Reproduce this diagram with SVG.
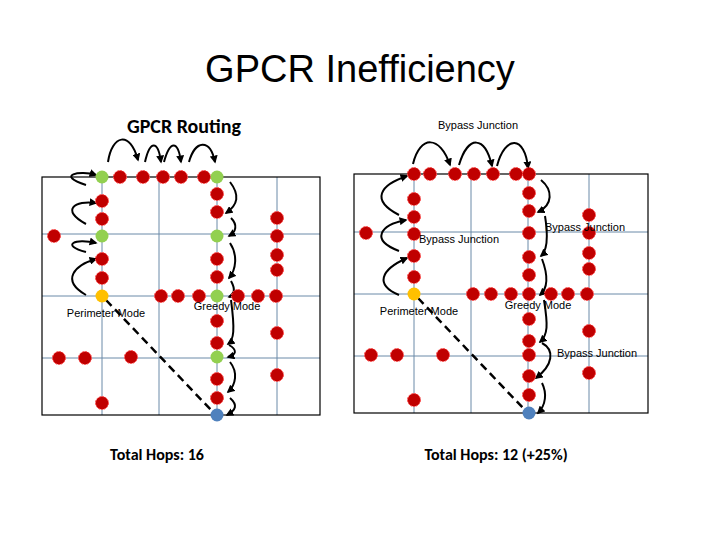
<svg xmlns="http://www.w3.org/2000/svg" width="720" height="540" viewBox="0 0 720 540">
<style>
.t{font-family:"Liberation Sans",Arial,sans-serif;fill:#000}
.c{font-family:Calibri,"Carlito","Liberation Sans",sans-serif;fill:#000}
.g{stroke:#6a8aa8;stroke-width:1;fill:none}
.b{stroke:#000;stroke-width:1.2;fill:none}
.r{fill:#c00000;stroke:#ff5050;stroke-width:1;stroke-dasharray:2 1}
.gr{fill:#92d050}.y{fill:#ffc000}.bl{fill:#4f81bd}
.a{stroke:#000;stroke-width:2;fill:none;marker-end:url(#ah)}
.d{stroke:#000;stroke-width:2.5;stroke-dasharray:8 5;fill:none}
</style>
<defs>
<marker id="ah" viewBox="0 0 10 10" refX="8" refY="5" markerWidth="4" markerHeight="4" orient="auto"><path d="M0,0L10,5L0,10z" fill="#000"/></marker>
<circle id="n" r="6.5"/>
</defs>
<text class="t" x="360" y="82" font-size="38" text-anchor="middle">GPCR Inefficiency</text>
<text class="c" x="184" y="133" font-size="20" font-weight="bold" text-anchor="middle">GPCR Routing</text>
<text class="t" x="478" y="129" font-size="11" text-anchor="middle">Bypass Junction</text>
<text class="c" x="157" y="460" font-size="16" font-weight="bold" text-anchor="middle">Total Hops: 16</text>
<text class="c" x="496" y="460" font-size="16" font-weight="bold" text-anchor="middle">Total Hops: 12 (+25%)</text>

<g id="grid-left">
<path class="g" d="M42,234H320M42,296H320M42,358H320M102,177V415M159,177V415M217,177V415M277,177V415"/>
<rect class="b" x="42" y="177" width="278" height="238"/>
</g>
<g id="grid-right">
<path class="g" d="M354,232H648M354,294H648M354,356H648M414,174V413M471,174V413M528,174V413M589,174V413"/>
<rect class="b" x="354" y="174" width="294" height="239"/>
</g>

<g id="connectors">
<path class="d" d="M106,300L212,411"/>
<path class="a" d="M108,162C112,135 130,130 138,160"/>
<path class="a" d="M145,162C150,140 158,140 161,162"/>
<path class="a" d="M164,162C170,140 178,140 181,162"/>
<path class="a" d="M189,162C195,140 210,138 215,162"/>
<path class="a" d="M86,185C55,175 80,170 96,175"/>
<path class="a" d="M86,224C60,210 75,200 96,203"/>
<path class="a" d="M86,252C60,245 75,238 96,243"/>
<path class="a" d="M86,295C60,280 75,265 96,259"/>
<path class="a" d="M230,182C240,195 238,205 226,213"/>
<path class="a" d="M231,218C238,225 236,232 229,236"/>
<path class="a" d="M230,243C238,255 236,270 229,278"/>
<path class="a" d="M231,281C236,290 234,295 229,297"/>
<path class="a" d="M231,300C235,330 234,340 228,344"/>
<path class="a" d="M229,345C238,350 236,355 228,357"/>
<path class="a" d="M230,362C238,372 236,385 228,392"/>
<path class="a" d="M230,398C238,405 236,410 227,415"/>

<path class="d" d="M418,298L524,409"/>
<path class="a" d="M413,164C420,135 440,135 450,165"/>
<path class="a" d="M459,165C468,135 485,135 492,166"/>
<path class="a" d="M497,166C505,135 525,135 528,168"/>
<path class="a" d="M399,215C370,200 380,185 407,176"/>
<path class="a" d="M399,251C370,240 380,225 406,220"/>
<path class="a" d="M399,295C375,285 380,270 407,258"/>
<path class="a" d="M541,180C553,190 553,205 538,212"/>
<path class="a" d="M545,216C548,235 548,250 541,256"/>
<path class="a" d="M542,259C548,275 548,288 540,295"/>
<path class="a" d="M544,300C548,325 548,335 540,342"/>
<path class="a" d="M542,343C555,350 553,365 536,378"/>
<path class="a" d="M542,383C547,393 546,405 538,413"/>
</g>

<g id="nodes-left">
<use href="#n" class="gr" x="102" y="177"/><use href="#n" class="r" x="120" y="177"/><use href="#n" class="r" x="143" y="177"/><use href="#n" class="r" x="163" y="177"/><use href="#n" class="r" x="181" y="177"/><use href="#n" class="r" x="204" y="177"/><use href="#n" class="gr" x="217" y="177"/>
<use href="#n" class="r" x="102" y="201"/><use href="#n" class="r" x="102" y="219"/><use href="#n" class="gr" x="102" y="236"/><use href="#n" class="r" x="102" y="259"/><use href="#n" class="r" x="102" y="278"/><use href="#n" class="y" x="102" y="296"/>
<use href="#n" class="r" x="54" y="236"/><use href="#n" class="r" x="59" y="358"/><use href="#n" class="r" x="85" y="358"/><use href="#n" class="r" x="131" y="357"/><use href="#n" class="r" x="102" y="403"/>
<use href="#n" class="r" x="217" y="194"/><use href="#n" class="r" x="217" y="212"/><use href="#n" class="gr" x="217" y="236"/><use href="#n" class="r" x="217" y="259"/><use href="#n" class="r" x="217" y="277"/><use href="#n" class="gr" x="217" y="296"/><use href="#n" class="r" x="217" y="321"/><use href="#n" class="r" x="217" y="343"/><use href="#n" class="gr" x="217" y="357"/><use href="#n" class="r" x="217" y="379"/><use href="#n" class="r" x="217" y="398"/><use href="#n" class="bl" x="217" y="415"/>
<use href="#n" class="r" x="161" y="296"/><use href="#n" class="r" x="178" y="296"/><use href="#n" class="r" x="199" y="296"/><use href="#n" class="r" x="238" y="296"/><use href="#n" class="r" x="258" y="296"/><use href="#n" class="r" x="276" y="296"/>
<use href="#n" class="r" x="277" y="218"/><use href="#n" class="r" x="277" y="236"/><use href="#n" class="r" x="277" y="255"/><use href="#n" class="r" x="277" y="270"/><use href="#n" class="r" x="277" y="333"/><use href="#n" class="r" x="277" y="375"/>
<text class="t" x="106" y="317" font-size="11" text-anchor="middle">Perimeter Mode</text>
<text class="t" x="227" y="310" font-size="11" text-anchor="middle">Greedy Mode</text>
</g>

<g id="nodes-right">
<use href="#n" class="r" x="414" y="174"/><use href="#n" class="r" x="430" y="174"/><use href="#n" class="r" x="455" y="174"/><use href="#n" class="r" x="474" y="174"/><use href="#n" class="r" x="493" y="174"/><use href="#n" class="r" x="516" y="174"/><use href="#n" class="r" x="529" y="174"/>
<use href="#n" class="r" x="414" y="199"/><use href="#n" class="r" x="414" y="217"/><use href="#n" class="r" x="414" y="234"/><use href="#n" class="r" x="414" y="256"/><use href="#n" class="r" x="414" y="277"/><use href="#n" class="y" x="414" y="294"/>
<use href="#n" class="r" x="366" y="233"/><use href="#n" class="r" x="371" y="355"/><use href="#n" class="r" x="397" y="355"/><use href="#n" class="r" x="443" y="355"/><use href="#n" class="r" x="414" y="400"/>
<use href="#n" class="r" x="529" y="193"/><use href="#n" class="r" x="529" y="211"/><use href="#n" class="r" x="529" y="233"/><use href="#n" class="r" x="529" y="257"/><use href="#n" class="r" x="529" y="275"/><use href="#n" class="r" x="529" y="294"/><use href="#n" class="r" x="529" y="319"/><use href="#n" class="r" x="529" y="341"/><use href="#n" class="r" x="529" y="355"/><use href="#n" class="r" x="529" y="376"/><use href="#n" class="r" x="529" y="395"/><use href="#n" class="bl" x="529" y="413"/>
<use href="#n" class="r" x="473" y="294"/><use href="#n" class="r" x="491" y="294"/><use href="#n" class="r" x="511" y="294"/><use href="#n" class="r" x="551" y="294"/><use href="#n" class="r" x="568" y="294"/><use href="#n" class="r" x="587" y="294"/>
<use href="#n" class="r" x="589" y="215"/><use href="#n" class="r" x="589" y="233"/><use href="#n" class="r" x="589" y="253"/><use href="#n" class="r" x="589" y="269"/><use href="#n" class="r" x="589" y="331"/><use href="#n" class="r" x="589" y="373"/>
<text class="t" x="419" y="315" font-size="11" text-anchor="middle">Perimeter Mode</text>
<text class="t" x="538" y="309" font-size="11" text-anchor="middle">Greedy Mode</text>
<text class="t" x="459" y="243" font-size="11" text-anchor="middle">Bypass Junction</text>
<text class="t" x="585" y="231" font-size="11" text-anchor="middle">Bypass Junction</text>
<text class="t" x="597" y="357" font-size="11" text-anchor="middle">Bypass Junction</text>
</g>
</svg>
